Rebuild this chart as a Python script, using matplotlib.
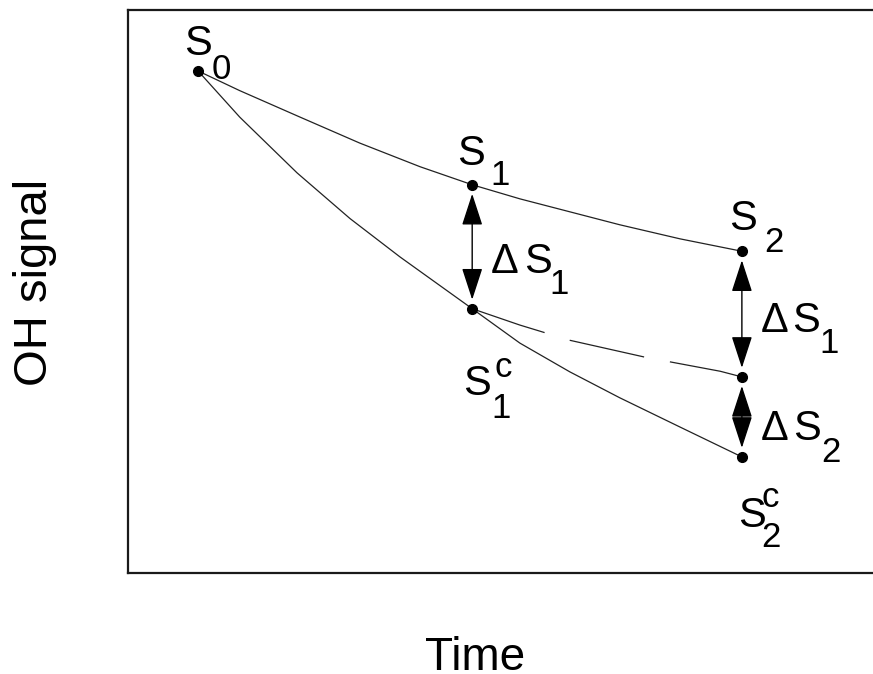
import matplotlib
matplotlib.use("Agg")
import matplotlib.pyplot as plt
from matplotlib.patches import FancyArrowPatch, ArrowStyle

plt.rcParams['font.family'] = ['Liberation Sans', 'DejaVu Sans']

# ---- data (arbitrary units) ----
t_upper = [9.4, 15.0, 23.1, 31.1, 39.2, 46.2, 52.6, 59.3, 66.0, 74.1, 82.4]
s_upper = [89.1, 85.6, 80.9, 76.3, 72.1, 68.9, 66.4, 64.1, 61.8, 59.3, 57.1]

t_lower = [9.4, 15.0, 22.7, 29.8, 36.5, 46.2, 52.6, 59.3, 66.0, 74.1, 82.4]
s_lower = [89.1, 80.9, 71.0, 62.9, 56.1, 46.9, 40.8, 35.7, 31.1, 25.9, 20.6]

t_mid = [46.2, 52.6, 59.3, 69.4, 79.5, 82.4]
s_mid = [46.9, 44.0, 41.3, 38.3, 35.8, 34.8]

# key points
S0 = (t_upper[0], s_upper[0])
S1 = (t_upper[5], s_upper[5])
S2 = (t_upper[-1], s_upper[-1])
S1c = (t_lower[5], s_lower[5])
S2c = (t_lower[-1], s_lower[-1])
M = (t_mid[-1], s_mid[-1])

W, H = 873, 674
fig = plt.figure(figsize=(W / 100, H / 100), dpi=100)
ax = fig.add_axes([128 / W, (H - 573) / H, (W - 128) / W, (573 - 9.5) / H])
ax.set_xlim(0, 100)
ax.set_ylim(0, 100)
ax.set_xticks([])
ax.set_yticks([])
for side in ['left', 'top', 'bottom']:
    ax.spines[side].set_linewidth(1.6)
    ax.spines[side].set_color('#1a1a1a')
ax.spines['right'].set_visible(False)

line_kw = dict(color='#222222', lw=0.9, solid_capstyle='round',
               solid_joinstyle='round')
ax.plot(t_upper, s_upper, **line_kw)
ax.plot(t_lower, s_lower, **line_kw)
ax.plot(t_mid, s_mid, color='#222222', lw=0.9, linestyle=(0, (61, 21)))

pts = [S0, S1, S2, S1c, S2c, M]
ax.plot([p[0] for p in pts], [p[1] for p in pts], 'o', color='black',
        markersize=7, zorder=5, clip_on=False)

# double-headed arrows
style = ArrowStyle('<|-|>', head_length=20, head_width=6.5)
for a, b in [(S1, S1c), (S2, M), (M, S2c)]:
    arr = FancyArrowPatch(a, b, arrowstyle=style, mutation_scale=1,
                          shrinkA=6.5, shrinkB=6.5, color='black', lw=1.0,
                          zorder=4)
    ax.add_patch(arr)

BIG, SMALL = 30, 25
PX = 0.72  # points per pixel


def put(txt, pt, dx, dy, size):
    # dx, dy in pixels, dy positive downwards; text origin = left/baseline
    ax.annotate(txt, xy=pt, xytext=(dx * PX, -dy * PX), textcoords='offset points',
                ha='left', va='baseline', fontsize=size, color='black')


# S0
put('S', S0, -14, -16, BIG)
put('0', S0, 14, 8, SMALL)
# S1
put('S', S1, -15, -20, BIG)
put('1', S1, 18, 0, SMALL)
# S2
put('S', S2, -13, -21, BIG)
put('2', S2, 22, 1, SMALL)
# S1c
put('S', S1c, -9, 86, BIG)
put('c', S1c, 22, 68, SMALL)
put('1', S1c, 19, 109, SMALL)
# S2c
put('S', S2c, -4, 70, BIG)
put('c', S2c, 20, 50, SMALL)
put('2', S2c, 19, 90, SMALL)
# Delta S1 (first)
put('\u0394', S1c, 19, -36, BIG)
put('S', S1c, 52, -36, BIG)
put('1', S1c, 77, -15, SMALL)
# Delta S1 (second)
put('\u0394', M, 19, -45, BIG)
put('S', M, 50, -45, BIG)
put('1', M, 77, -24, SMALL)
# Delta S2
put('\u0394', S2c, 19, -17, BIG)
put('S', S2c, 51, -17, BIG)
put('2', S2c, 79, 5, SMALL)

fig.text(35 / W, 1 - 282 / H, 'OH signal', rotation=90, ha='center', va='center',
         fontsize=34)
fig.text(475 / W, 1 - 670 / H, 'Time', ha='center', va='baseline', fontsize=33)

fig.savefig('out.png', dpi=100)
